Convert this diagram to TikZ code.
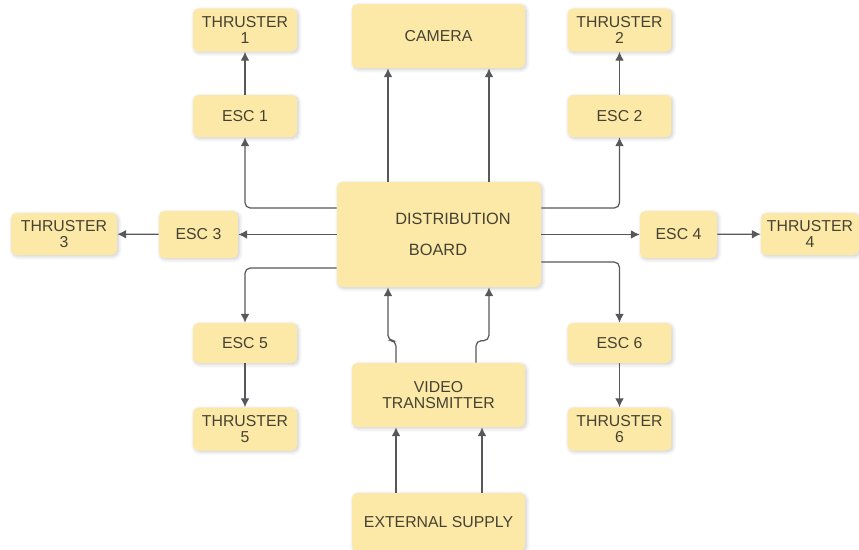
\documentclass[tikz,border=0pt]{standalone}
\usepackage{fontspec}
\setmainfont{Liberation Sans}
\usetikzlibrary{arrows.meta,shadows.blur}
\definecolor{boxfill}{RGB}{252,233,168}
\definecolor{boxtext}{RGB}{70,66,50}
\definecolor{linkgray}{RGB}{88,88,92}
\tikzset{
    blk/.style={fill=boxfill, rounded corners=3pt, align=center, text=boxtext, inner sep=0pt,
        font=\fontsize{9}{9.5}\selectfont,
        blur shadow={shadow blur steps=6, shadow xshift=0.8pt, shadow yshift=-0.8pt, shadow opacity=20}},
    escbox/.style={blk, minimum width=2.08cm, minimum height=0.84cm},
    thrbox/.style={blk, minimum width=2.08cm, minimum height=0.86cm},
    widebox/.style={blk, minimum width=3.46cm, minimum height=1.28cm},
    link/.style={draw=linkgray, line width=0.7pt, rounded corners=3pt, -{Latex[length=5pt,width=5pt]}},
}
\begin{document}
\begin{tikzpicture}[x=0.02cm, y=-0.02cm]
    \useasboundingbox (0,0) rectangle (859,549);
    % top row
    \node[thrbox] (thr1) at (245,30) {THRUSTER\\1};
    \node[widebox] (cam) at (438.5,36) {CAMERA};
    \node[thrbox] (thr2) at (619.5,30) {THRUSTER\\2};
    \node[escbox] (esc1) at (245,116) {ESC 1};
    \node[escbox] (esc2) at (619.5,116) {ESC 2};
    % middle row
    \node[blk, minimum width=4.08cm, minimum height=2.1cm] (board) at (439,234.5) {};
    \node[text=boxtext, font=\fontsize{9.3}{10}\selectfont] (boardtop) at (453,219) {DISTRIBUTION};
    \node[text=boxtext, font=\fontsize{9.3}{10}\selectfont] (boardbot) at (438,250) {BOARD};
    \node[blk, minimum width=1.58cm, minimum height=0.94cm] (esc3) at (198.5,234.5) {ESC 3};
    \node[blk, minimum width=2.12cm, minimum height=0.84cm] (thr3) at (64,234) {THRUSTER\\3};
    \node[blk, minimum width=1.54cm, minimum height=0.94cm] (esc4) at (678.5,234.5) {ESC 4};
    \node[blk, minimum width=1.96cm, minimum height=0.84cm] (thr4) at (810,234) {THRUSTER\\4};
    % bottom rows
    \node[escbox, minimum height=0.8cm] (esc5) at (245,343) {ESC 5};
    \node[escbox, minimum height=0.8cm] (esc6) at (619.5,343) {ESC 6};
    \node[thrbox] (thr5) at (245,429) {THRUSTER\\5};
    \node[thrbox] (thr6) at (619.5,429) {THRUSTER\\6};
    \node[widebox] (vt) at (438.5,395) {VIDEO\\TRANSMITTER};
    \node[widebox, minimum height=1.16cm] (ext) at (438.5,522) {EXTERNAL SUPPLY};

    % connectors
    \draw[link] (esc1) -- (thr1);
    \draw[link] (esc2) -- (thr2);
    \draw[link] ([yshift=0.53cm]board.west) -| (esc1);
    \draw[link] ([yshift=0.53cm]board.east) -| (esc2);
    \draw[link] (board.west) -- (esc3);
    \draw[link] (esc3) -- (thr3);
    \draw[link] (board.east) -- (esc4);
    \draw[link] (esc4) -- (thr4);
    \draw[link] ([yshift=-0.67cm]board.west) -| (esc5);
    \draw[link] ([yshift=-0.55cm]board.east) -| (esc6);
    \draw[link] (esc5) -- (thr5);
    \draw[link] (esc6) -- (thr6);
    \draw[link] ([xshift=-1.02cm]board.north) -- ([xshift=-1.02cm]board.north |- cam.south);
    \draw[link] ([xshift=1.0cm]board.north) -- ([xshift=1.0cm]board.north |- cam.south);
    \draw[link] ([xshift=-0.85cm]vt.north) -- ++(0,-22) -- ++(-8,0) -- ([xshift=-1.02cm]board.south);
    \draw[link] ([xshift=0.75cm]vt.north) -- ++(0,-22) -- ++(13,0) -- ([xshift=1.0cm]board.south);
    \draw[link] ([xshift=-0.85cm]ext.north) -- ([xshift=-0.85cm]vt.south);
    \draw[link] ([xshift=0.87cm]ext.north) -- ([xshift=0.87cm]vt.south);
\end{tikzpicture}
\end{document}
